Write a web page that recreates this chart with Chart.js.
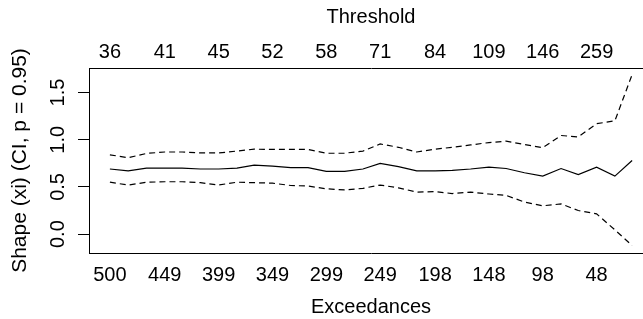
<!DOCTYPE html>
<html>
<head>
<meta charset="utf-8">
<script src="https://cdn.jsdelivr.net/npm/chart.js@4"></script>
<style>
  html, body { margin: 0; padding: 0; background: #fff; overflow: hidden; }
  #chart { display: block; }
</style>
</head>
<body>
<canvas id="chart" width="663" height="319"></canvas>
<script>
// number of exceedances for each of the 30 fitted models
const exceedances = [500, 483, 466, 449, 433, 416, 399, 382, 366, 349,
                     332, 316, 299, 282, 265, 249, 232, 215, 198, 182,
                     165, 148, 132, 115, 98, 81, 65, 48, 31, 15];
// shape estimate (xi) and the 95% confidence band
const shapeXi = [0.69, 0.67, 0.70, 0.70, 0.70, 0.69, 0.69, 0.70, 0.73, 0.72,
                 0.705, 0.705, 0.665, 0.665, 0.69, 0.75, 0.715, 0.67, 0.67, 0.675,
                 0.69, 0.71, 0.695, 0.65, 0.615, 0.695, 0.63, 0.71, 0.615, 0.78];
const upperCI = [0.84, 0.81, 0.855, 0.87, 0.87, 0.86, 0.86, 0.88, 0.90, 0.897,
                 0.897, 0.897, 0.857, 0.857, 0.88, 0.955, 0.92, 0.87, 0.90, 0.92,
                 0.945, 0.97, 0.985, 0.95, 0.915, 1.045, 1.03, 1.17, 1.20, 1.69];
const lowerCI = [0.55, 0.52, 0.55, 0.555, 0.555, 0.545, 0.52, 0.55, 0.545, 0.54,
                 0.515, 0.51, 0.48, 0.468, 0.485, 0.52, 0.49, 0.445, 0.45, 0.43,
                 0.445, 0.425, 0.41, 0.34, 0.30, 0.32, 0.25, 0.215, 0.045, -0.12];
// which models get a label on the bottom / top axis
const labelIndex = [0, 3, 6, 9, 12, 15, 18, 21, 24, 27];
const thresholdLabels = ['36', '41', '45', '52', '58', '71', '84', '109', '146', '259'];
const yTicks = [0, 0.5, 1.0, 1.5];

const toPoints = (vals) => vals.map((v, i) => ({ x: -exceedances[i], y: v }));
const labelTicks = () => labelIndex.map((i) => ({ value: -exceedances[i] }));

const FONT = 'Liberation Sans, Arial, sans-serif';

const xRange = { min: -519.4, max: 4.4 };

new Chart(document.getElementById('chart'), {
    type: 'line',
    data: {
        datasets: [
            {
                data: toPoints(shapeXi),
                borderColor: '#000',
                borderWidth: 1.2,
                pointRadius: 0,
                tension: 0
            },
            {
                data: toPoints(upperCI),
                borderColor: '#000',
                borderWidth: 1.2,
                borderDash: [6, 4],
                pointRadius: 0,
                tension: 0
            },
            {
                data: toPoints(lowerCI),
                borderColor: '#000',
                borderWidth: 1.2,
                borderDash: [6, 4],
                pointRadius: 0,
                tension: 0
            }
        ]
    },
    options: {
        responsive: false,
        animation: false,
        layout: { padding: { left: 0, right: 10, top: 0, bottom: 0 } },
        plugins: { legend: { display: false }, tooltip: { enabled: false } },
        scales: {
            x: {
                type: 'linear',
                position: 'bottom',
                min: xRange.min,
                max: xRange.max,
                afterBuildTicks: (scale) => { scale.ticks = labelTicks(); },
                afterFit: (scale) => { scale.height = 66; },
                grid: { display: false, drawTicks: false },
                border: { display: true, color: '#000', width: 1 },
                ticks: {
                    autoSkip: false,
                    maxRotation: 0,
                    padding: 10,
                    color: '#000',
                    font: { family: FONT, size: 20 },
                    callback: (v) => String(-v)
                },
                title: {
                    display: true,
                    text: 'Exceedances',
                    color: '#000',
                    font: { family: FONT, size: 20 },
                    padding: { top: 0, bottom: 0 }
                }
            },
            x2: {
                type: 'linear',
                position: 'top',
                min: xRange.min,
                max: xRange.max,
                afterBuildTicks: (scale) => { scale.ticks = labelTicks(); },
                afterFit: (scale) => { scale.height = 68; },
                grid: { display: false, drawTicks: false },
                border: { display: true, color: '#000', width: 1 },
                ticks: {
                    autoSkip: false,
                    maxRotation: 0,
                    padding: 4,
                    color: '#000',
                    font: { family: FONT, size: 20 },
                    callback: (v, i) => thresholdLabels[i]
                },
                title: {
                    display: true,
                    text: 'Threshold',
                    color: '#000',
                    font: { family: FONT, size: 20 },
                    padding: { top: 5, bottom: 0 }
                }
            },
            y: {
                type: 'linear',
                min: -0.2,
                max: 1.76,
                afterBuildTicks: (scale) => { scale.ticks = yTicks.map((v) => ({ value: v })); },
                afterFit: (scale) => { scale.width = 89; },
                grid: {
                    drawOnChartArea: false,
                    drawTicks: true,
                    tickLength: 11,
                    color: '#000'
                },
                border: { display: true, color: '#000', width: 1 },
                ticks: {
                    minRotation: 90,
                    maxRotation: 90,
                    crossAlign: 'center',
                    padding: 6,
                    color: '#000',
                    font: { family: FONT, size: 20 },
                    callback: (v) => v.toFixed(1)
                },
                title: {
                    display: true,
                    text: 'Shape (xi) (CI, p = 0.95)',
                    color: '#000',
                    font: { family: FONT, size: 21 },
                    padding: { top: 8, bottom: 0 }
                }
            }
        }
    }
});
</script>
</body>
</html>
